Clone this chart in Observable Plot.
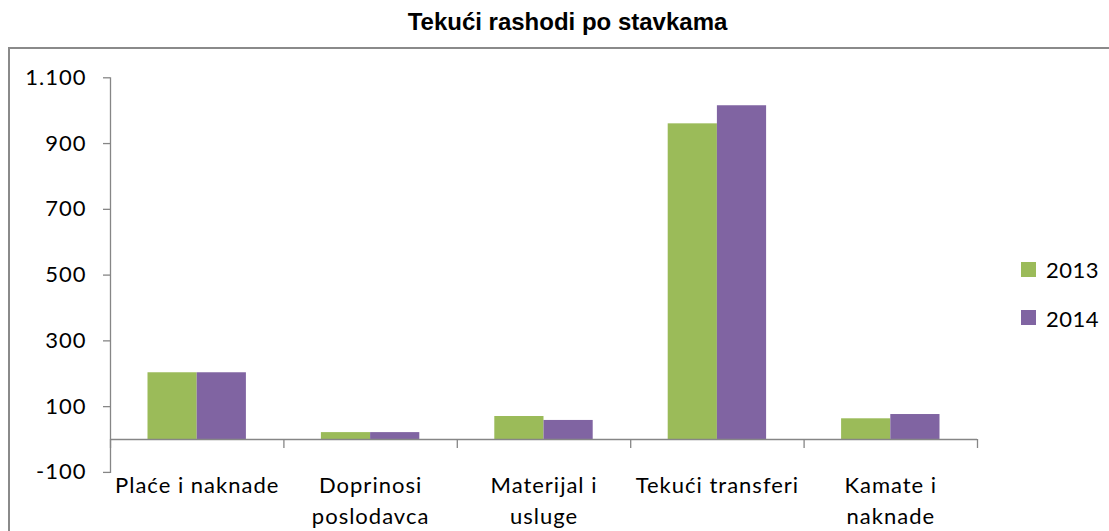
<!DOCTYPE html>
<html>
<head>
<meta charset="utf-8">
<script src="https://cdn.jsdelivr.net/npm/d3@7"></script>
<script src="https://cdn.jsdelivr.net/npm/@observablehq/plot@0.6"></script>
<style>
  html, body { margin: 0; padding: 0; background: #fff; }
  #wrap { position: relative; width: 1109px; height: 531px; overflow: hidden; }
  #title { position: absolute; left: 0; width: 1135px; top: 10px; text-align: center;
           font: bold 24px/24px "Liberation Sans", Arial, sans-serif; color: #000; }
  #frame { position: absolute; left: 8px; top: 47px; width: 1200px; height: 600px;
           border: 2px solid #8a8a8a; box-sizing: border-box; }
  #chart { position: absolute; left: 0; top: 48px; }
  #chart text { letter-spacing: 1px; }
  .lg-sw { position: absolute; width: 15px; height: 15px; }
  .lg-tx { position: absolute; font: 22px/22px Lato, sans-serif; color: #000; letter-spacing: 0.5px; }
</style>
</head>
<body>
<div id="wrap">
  <div id="frame"></div>
  <div id="title">Tekući rashodi po stavkama</div>
  <div id="chart"></div>
  <div id="legend"></div>
</div>
<script>
const categories = ["Plaće i naknade", "Doprinosi poslodavca", "Materijal i usluge", "Tekući transferi", "Kamate i naknade"];
const categoryLabels = ["Plaće i naknade", "Doprinosi\nposlodavca", "Materijal i\nusluge", "Tekući transferi", "Kamate i\nnaknade"];
const years = ["2013", "2014"];
const values2013 = [203, 21, 70, 960, 63];
const values2014 = [203, 21, 58, 1015, 76];
const yTicks = [-100, 100, 300, 500, 700, 900, 1100];
const colors = ["#9BBB59", "#8064A2"];

const data2013 = categories.map((c, i) => ({category: c, year: "2013", value: values2013[i]}));
const data2014 = categories.map((c, i) => ({category: c, year: "2014", value: values2014[i]}));

const W = 1109, H = 483;
const mL = 110, mR = 132, mT = 29.3, mB = 59.1;
const step = (W - mL - mR) / categories.length;
const barW = 49.2, barOff = 37.5;
const axisColor = "#868686";

const fmt = d3.formatLocale({decimal: ",", thousands: ".", grouping: [3], currency: ["", ""], minus: "-"}).format(",");

const chart = Plot.plot({
  width: W, height: H,
  marginLeft: mL, marginRight: mR, marginTop: mT, marginBottom: mB,
  style: {fontFamily: "Lato, sans-serif", background: "transparent", overflow: "visible"},
  x: {type: "band", domain: categories, padding: 0, round: false, axis: null},
  y: {domain: [-100, 1100], axis: null},
  marks: [
    Plot.barY(data2013, {x: "category", y: "value", fill: colors[0], insetLeft: barOff, insetRight: step - barOff - barW}),
    Plot.barY(data2014, {x: "category", y: "value", fill: colors[1], insetLeft: barOff + barW, insetRight: step - barOff - 2 * barW}),
    Plot.ruleY([0], {stroke: axisColor, strokeWidth: 1.3}),
    Plot.ruleX(categories, {x: d => d, dx: -step / 2, y1: 0, y2: -27.4, stroke: axisColor, strokeWidth: 1.3}),
    Plot.ruleX(categories.slice(-1), {x: d => d, dx: step / 2, y1: 0, y2: -27.4, stroke: axisColor, strokeWidth: 1.3}),
    Plot.frame({anchor: "left", stroke: axisColor, strokeWidth: 1.3}),
    Plot.axisY({ticks: yTicks, tickFormat: fmt, label: null, tickSize: 7, tickPadding: 17, fontSize: 22, stroke: axisColor, strokeWidth: 1.3, fill: "#000"}),
    Plot.text(categories, {x: d => d, y: -100, text: (d, i) => categoryLabels[i], lineAnchor: "top", dy: -2, lineHeight: 1.42, fontSize: 22, fill: "#000"})
  ]
});
document.getElementById("chart").appendChild(chart);

const legend = document.getElementById("legend");
const swTops = [262, 310];
const txTops = [259.4, 308.4];
years.forEach((y, i) => {
  const sw = document.createElement("div");
  sw.className = "lg-sw";
  sw.style.left = "1021px";
  sw.style.top = swTops[i] + "px";
  sw.style.background = colors[i];
  legend.appendChild(sw);
  const tx = document.createElement("div");
  tx.className = "lg-tx";
  tx.style.left = "1046px";
  tx.style.top = txTops[i] + "px";
  tx.textContent = y;
  legend.appendChild(tx);
});
</script>
</body>
</html>
